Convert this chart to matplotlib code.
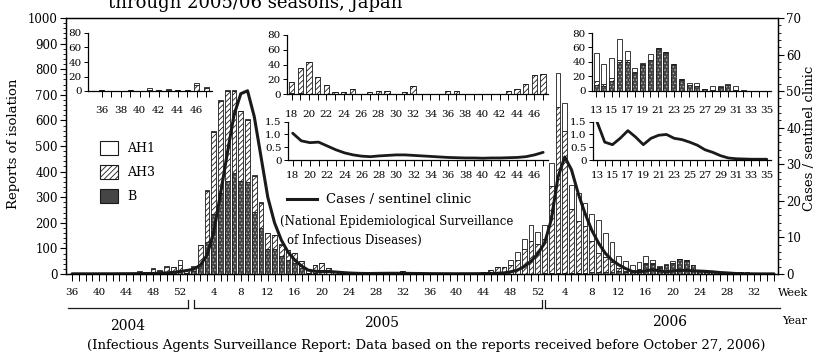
import matplotlib
matplotlib.use('Agg')
import matplotlib.pyplot as plt
import matplotlib.ticker as mticker
import matplotlib.transforms as mtransforms
from matplotlib.patches import Patch
from matplotlib.lines import Line2D
import numpy as np

plt.rcParams['font.family'] = ['DejaVu Serif']
plt.rcParams['hatch.linewidth'] = 0.6
plt.rcParams['axes.linewidth'] = 0.9

W, H = 815, 354

# 週番号 (2004/36 - 2006/35)
weeks_2004 = list(range(36, 54))
weeks_2005 = list(range(1, 53))
weeks_2006 = list(range(1, 36))

# 分離報告数
ah1_2004 = [0, 0, 0, 0, 0, 2, 0, 1, 0, 0, 3, 2, 4, 3, 4, 2, 20, 2]
ah3_2004 = [1, 0, 0, 2, 0, 2, 2, 2, 2, 2, 8, 4, 14, 10, 20, 18, 25, 10]
b_2004 = [0, 0, 0, 0, 0, 0, 0, 0, 0, 0, 0, 0, 4, 3, 8, 8, 10, 5]

ah1_2005 = ([2, 2, 3, 5, 5, 5, 4, 3, 3, 2, 2, 1, 1, 1, 0, 0, 0]
            + [0] * 30 + [20, 30, 40, 60, 50])
ah3_2005 = ([18, 75, 200, 320, 360, 350, 320, 270, 240, 140, 100, 60, 55, 45, 40, 40, 30]
            + [14, 33, 42, 22, 13, 3, 3, 7, 1, 3, 5, 5, 1, 3, 11, 0, 1, 0, 4, 4,
               1, 1, 0, 1, 1, 4, 7, 14, 26, 28]
            + [36, 54, 97, 130, 116])
b_2005 = ([10, 38, 125, 235, 315, 365, 393, 365, 361, 243, 178, 99, 96, 70, 55, 42, 22]
          + [2, 2, 1, 1] + [0] * 26 + [0, 0, 0, 0, 0])

ah1_2006 = [55, 90, 133, 110, 95, 110, 90, 105, 130, 95, 80, 48,
            39, 28, 27, 28, 12, 6, 1, 8, 0, 0, 0, 0, 3, 4, 0, 6, 1, 1, 5, 1, 0, 0, 0]
ah3_2006 = [135, 340, 650, 553, 250, 203, 183, 122, 75, 57, 37, 12,
            5, 2, 4, 3, 3, 2, 1, 1, 1, 1, 1, 1, 0, 0, 0, 0, 0, 0, 0, 0, 0, 0, 0]
b_2006 = [2, 3, 3, 4, 4, 5, 5, 6, 7, 8, 8, 10,
          8, 7, 14, 40, 40, 24, 36, 42, 58, 52, 36, 15, 8, 6, 2, 1, 5, 8, 1, 0, 0, 0, 0]

# 定点当たり患者報告数
sentinel_2004 = [0.05, 0.05, 0.05, 0.05, 0.05, 0.06, 0.06, 0.07, 0.08, 0.09,
                 0.1, 0.12, 0.15, 0.2, 0.3, 0.45, 0.7, 0.95]
sentinel_2005 = [1.3, 2.4, 5.2, 11.5, 22, 33, 43.5, 49.3, 50.1, 43, 32, 21, 14, 9.3,
                 6, 3.8, 2.2, 1.05, 0.75, 0.68, 0.7, 0.55, 0.4, 0.28, 0.2, 0.15,
                 0.13, 0.16, 0.18, 0.2, 0.2, 0.18, 0.16, 0.14, 0.12, 0.1, 0.09, 0.08,
                 0.08, 0.07, 0.08, 0.08, 0.09, 0.1, 0.13, 0.2, 0.3, 0.6, 1.1, 2.0, 3.5, 5.5]
sentinel_2006 = [8.4, 14.8, 26.5, 32, 28.5, 22, 16.6, 12, 8.5, 5.7, 3.8, 2.5, 1.5,
                 0.7, 0.6, 0.85, 1.15, 0.9, 0.6, 0.85, 0.97, 1.0, 0.85, 0.8, 0.7,
                 0.58, 0.4, 0.3, 0.17, 0.08, 0.05, 0.04, 0.03, 0.03, 0.03]

weeks = np.array(weeks_2004 + weeks_2005 + weeks_2006)
ah1 = np.array(ah1_2004 + ah1_2005 + ah1_2006)
ah3 = np.array(ah3_2004 + ah3_2005 + ah3_2006)
flu_b = np.array(b_2004 + b_2005 + b_2006)
sentinel = np.array(sentinel_2004 + sentinel_2005 + sentinel_2006)
idx = np.arange(len(weeks))

INK = '#1a1a1a'
DARK = '#454545'


def px_axes(left, top, right, bottom):
    return fig.add_axes([left / W, 1 - bottom / H, (right - left) / W, (bottom - top) / H])


def fig_y(y):
    return 1 - y / H


def stacked_bars(axis, x, width, sl):
    # B: 点描風の濃い灰色
    axis.bar(x, flu_b[sl], width, color=DARK, edgecolor='#bbbbbb', hatch='.....',
             linewidth=0)
    axis.bar(x, flu_b[sl], width, fill=False, edgecolor=INK, linewidth=0.6)
    axis.bar(x, ah3[sl], width, bottom=flu_b[sl], color='white', edgecolor=INK,
             hatch='//////', linewidth=0.6)
    axis.bar(x, ah1[sl], width, bottom=flu_b[sl] + ah3[sl], color='white',
             edgecolor=INK, linewidth=0.6)


fig = plt.figure(figsize=(W / 100, H / 100), dpi=100)

# ---------------- メイン ----------------
ax = px_axes(66, 18, 778, 274)
stacked_bars(ax, idx, 0.72, slice(None))
ax.set_xlim(-0.9, 104.6)
ax.set_ylim(0, 1000)
ax.yaxis.set_major_locator(mticker.MultipleLocator(100))
ax.yaxis.set_minor_locator(mticker.MultipleLocator(20))
ax.set_xticks(idx)
ax.set_xticklabels([str(w) if w % 4 == 0 else '' for w in weeks])
ax.tick_params(axis='x', length=5, width=0.7, pad=5, labelsize=7.5)
ax.tick_params(axis='y', which='major', length=4, width=0.8, pad=2, labelsize=8.5)
ax.tick_params(axis='y', which='minor', length=2.5, width=0.6)
ax.set_ylabel('Reports of isolation', fontsize=9.5, labelpad=4)
ax.yaxis.set_label_coords(-0.065, 0.51)

ax2 = ax.twinx()
ax2.plot(idx, sentinel, color=INK, linewidth=2.2, solid_capstyle='round')
ax2.set_ylim(0, 70)
ax2.yaxis.set_major_locator(mticker.MultipleLocator(10))
ax2.yaxis.set_minor_locator(mticker.MultipleLocator(2))
ax2.tick_params(axis='y', which='major', length=4, width=0.8, pad=2, labelsize=8.5)
ax2.tick_params(axis='y', which='minor', length=2.5, width=0.6)
# 右端で切れている軸ラベル
fig.text(810 / W, fig_y(138), 'Cases / sentinel clinic', rotation=90,
         ha='center', va='center', fontsize=9.5)

fig.text(778 / W, fig_y(293), 'Week', ha='left', va='center', fontsize=8)
fig.text(782 / W, fig_y(321), 'Year', ha='left', va='center', fontsize=8)

# 年の区切り
tr = mtransforms.blended_transform_factory(ax.transData, fig.transFigure)
y_br, y_tk = fig_y(307.5), fig_y(300)
brackets = [(-0.55, 17.2, 'right'), (18.1, 69.6, 'both'), (70.1, 104.9, 'left')]
for x0, x1, side in brackets:
    ax.plot([x0, x1], [y_br, y_br], transform=tr, color=INK, lw=0.9, clip_on=False)
    if side in ('right', 'both'):
        ax.plot([x1, x1], [y_br, y_tk], transform=tr, color=INK, lw=0.9, clip_on=False)
    if side in ('left', 'both'):
        ax.plot([x0, x0], [y_br, y_tk], transform=tr, color=INK, lw=0.9, clip_on=False)
fig.text(127.5 / W, fig_y(326.5), '2004', ha='center', va='center', fontsize=10)
fig.text(381.5 / W, fig_y(323), '2005', ha='center', va='center', fontsize=10)
fig.text(670 / W, fig_y(321.5), '2006', ha='center', va='center', fontsize=10)

# 凡例
handles = [Patch(facecolor='white', edgecolor=INK, linewidth=0.8),
           Patch(facecolor='white', edgecolor=INK, hatch='//////', linewidth=0.8),
           Patch(facecolor=DARK, edgecolor=INK, linewidth=0.8)]
fig.legend(handles, ['AH1', 'AH3', 'B'], loc='upper left',
           bbox_to_anchor=(100 / W, fig_y(141)), frameon=False, fontsize=9,
           handlelength=1.4, handleheight=1.4, labelspacing=0.75,
           handletextpad=0.8, borderpad=0, borderaxespad=0)

fig.add_artist(Line2D([287 / W, 317 / W], [fig_y(199), fig_y(199)], color=INK, lw=2.2))
fig.text(326 / W, fig_y(199), 'Cases / sentinel clinic', ha='left', va='center', fontsize=9.5)
fig.text(280 / W, fig_y(221), '(National Epidemiological Surveillance',
         ha='left', va='center', fontsize=8.5)
fig.text(287 / W, fig_y(240), 'of Infectious Diseases)', ha='left', va='center', fontsize=8.5)

# ---------------- 挿入図 ----------------
def style_inset(a, xlim, wk, label_fn, pad):
    a.set_facecolor('none')
    a.spines['top'].set_visible(False)
    a.spines['right'].set_visible(False)
    a.set_xlim(*xlim)
    a.set_xticks(wk)
    a.set_xticklabels([str(w) if label_fn(w) else '' for w in wk])
    a.tick_params(axis='x', length=4, width=0.7, pad=pad, labelsize=7.5)
    a.tick_params(axis='y', length=3, width=0.7, pad=1.5, labelsize=7.5)


insets = [
    # (棒の範囲, 線の範囲, 週スライス, xlim, ラベル条件, 棒幅)
    ((88, 33, 212, 91), None, slice(0, 12), (34.56, 47.6), lambda w: w % 2 == 0, 0.55),
    ((287, 35, 548, 94.3), (288, 121.7, 548, 160), slice(35, 65), (17.46, 47.56),
     lambda w: w % 2 == 0, 0.62),
    ((592, 33, 771, 90.7), (593, 121.7, 771, 160), slice(82, 105), (12.48, 35.55),
     lambda w: w % 2 == 1, 0.65),
]
for bar_box, line_box, sl, xlim, label_fn, bw in insets:
    wk = weeks[sl]
    a = px_axes(*bar_box)
    stacked_bars(a, wk, bw, sl)
    a.set_ylim(0, 80)
    a.set_yticks([0, 20, 40, 60, 80])
    style_inset(a, xlim, wk, label_fn, 7)
    if line_box is not None:
        l = px_axes(*line_box)
        l.plot(wk, sentinel[sl], color=INK, linewidth=2.0, solid_capstyle='round')
        l.set_ylim(0, 1.5)
        l.set_yticks([0, 0.5, 1.0, 1.5])
        l.yaxis.set_major_formatter(mticker.FuncFormatter(
            lambda v, p: '0' if v == 0 else f'{v:.1f}'))
        style_inset(l, xlim, wk, label_fn, 4)

# タイトル (上部が切れている)
fig.text(255 / W, fig_y(8), 'through 2005/06 seasons, Japan', ha='center',
         va='baseline', fontsize=13)
fig.text(426 / W, fig_y(345),
         '(Infectious Agents Surveillance Report: Data based on the reports received '
         'before October 27, 2006)', ha='center', va='center', fontsize=9.5)

fig.savefig('out.png', dpi=100, facecolor='white')
